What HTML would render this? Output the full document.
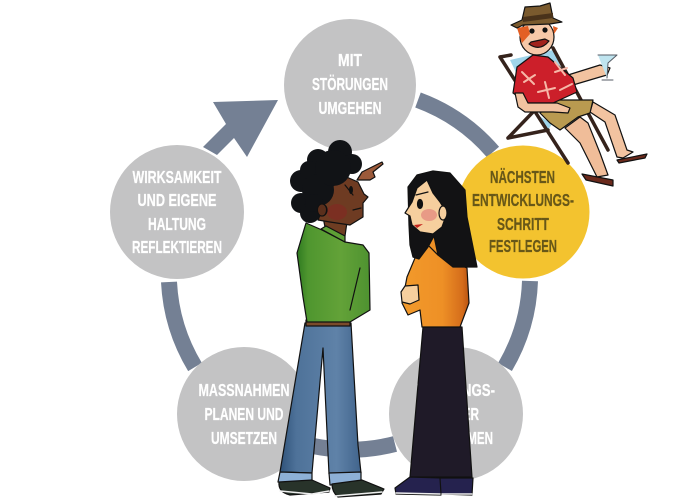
<!DOCTYPE html>
<html lang="de"><head><meta charset="utf-8"><title>Zyklus</title>
<style>html,body{margin:0;padding:0;background:#fff;width:700px;height:500px;overflow:hidden}svg{display:block}
.t{font:bold 17.500px "Liberation Sans",sans-serif;fill:#fff;stroke:#fff;stroke-width:.25;text-anchor:middle}
.y{fill:#675718;stroke:#675718}.o{stroke:#111;stroke-width:1.200;stroke-linejoin:round;stroke-linecap:round}</style></head>
<body><svg width="700" height="500" viewBox="0 0 700 500" xmlns="http://www.w3.org/2000/svg">
<defs>
<linearGradient id="jean" x1="0" x2="1" y1="0" y2="0"><stop offset="0" stop-color="#2f5279"/><stop offset=".2" stop-color="#4e7299"/><stop offset=".7" stop-color="#5f82a8"/><stop offset="1" stop-color="#41648c"/></linearGradient>
<linearGradient id="sw" x1="0" x2="1" y1="0" y2="0"><stop offset="0" stop-color="#2f7a20"/><stop offset=".15" stop-color="#4f962f"/><stop offset=".6" stop-color="#63a238"/><stop offset="1" stop-color="#4e9230"/></linearGradient>
<linearGradient id="or" x1="0" x2="1" y1="0" y2="0"><stop offset="0" stop-color="#f29a2b"/><stop offset=".6" stop-color="#ee9026"/><stop offset=".9" stop-color="#d56d1b"/><stop offset="1" stop-color="#b85312"/></linearGradient>
</defs>
<g fill="none" stroke="#748094" stroke-width="16">
<path d="M418 100A182 182 0 0 1 493 152"/>
<path d="M530 281A182 182 0 0 1 505 367"/>
<path d="M395 444A182 182 0 0 1 313 446"/>
<path d="M195 367A182 182 0 0 1 169 282"/>
</g>
<polygon points="213,102 278,100 247,157 234,138 217,155 203,147 226,124" fill="#748094"/>
<g fill="#c3c3c4">
<circle cx="350" cy="85" r="66"/><circle cx="177" cy="212" r="67"/><circle cx="244" cy="414" r="67"/><circle cx="456" cy="414" r="67"/>
</g>
<circle cx="523" cy="212" r="66.500" fill="#f3c32f"/>
<g class="t">
<text x="350" y="66" textLength="24" lengthAdjust="spacingAndGlyphs">MIT</text>
<text x="350" y="90" textLength="76" lengthAdjust="spacingAndGlyphs">STÖRUNGEN</text>
<text x="350" y="114" textLength="63" lengthAdjust="spacingAndGlyphs">UMGEHEN</text>
<text x="177" y="183" textLength="89" lengthAdjust="spacingAndGlyphs">WIRKSAMKEIT</text>
<text x="177" y="206" textLength="79" lengthAdjust="spacingAndGlyphs">UND EIGENE</text>
<text x="177" y="230" textLength="58" lengthAdjust="spacingAndGlyphs">HALTUNG</text>
<text x="177" y="253" textLength="90" lengthAdjust="spacingAndGlyphs">REFLEKTIEREN</text>
<text x="244" y="396" textLength="91" lengthAdjust="spacingAndGlyphs">MASSNAHMEN</text>
<text x="244" y="420" textLength="79" lengthAdjust="spacingAndGlyphs">PLANEN UND</text>
<text x="244" y="444" textLength="66" lengthAdjust="spacingAndGlyphs">UMSETZEN</text>
<text x="456" y="396" textLength="78" lengthAdjust="spacingAndGlyphs">WIRKUNGS-</text>
<text x="456" y="420" textLength="46" lengthAdjust="spacingAndGlyphs">WEITER</text>
<text x="456" y="444" textLength="74" lengthAdjust="spacingAndGlyphs">AUFNEHMEN</text>
</g>
<g class="t y">
<text x="522.500" y="183" textLength="65" lengthAdjust="spacingAndGlyphs">NÄCHSTEN</text>
<text x="523" y="206" textLength="102" lengthAdjust="spacingAndGlyphs">ENTWICKLUNGS-</text>
<text x="523" y="230" textLength="52" lengthAdjust="spacingAndGlyphs">SCHRITT</text>
<text x="523" y="252" textLength="68" lengthAdjust="spacingAndGlyphs">FESTLEGEN</text>
</g>

<!-- man -->
<g class="o">
<path d="M305 323H351L358 445L361 473L329 474L323 348L312 473L280 472Z" fill="url(#jean)"/>
<path d="M280 472L312 473V483L278 482Z M329 473L361 472V483L330 485Z" fill="#8db0d6"/>
<path d="M279 482L312 480L330 488L329 492L290 495Q278 492 279 482Z" fill="#28332a"/>
<path d="M332 484L362 480L384 489L381 494L338 497Q332 492 332 484Z" fill="#28332a"/>
<path d="M280 491L312 494L329 491M335 496L382 492" fill="none" stroke="#eee" stroke-width="1.500"/>
<path d="M306 320H350V326H306Z" fill="#7a4a2a"/>
<path d="M306 223L297 253L303 297L307 322H350L370 310L369 253L363 245L345 242L322 230Z" fill="url(#sw)"/>
<path d="M360 268L350 310" fill="none"/>
<path d="M322 212L325 227L345 236L347 222Z" fill="#6e3d22"/>
<path d="M321 229L345 242L345 236L326 226Z" fill="#5e9f36"/>
<path d="M357 180L362 172L382 162L383 164L373 172L375 177L370 180Z" fill="#9c5a3a"/>
<path d="M330 190L342 175L358 182L364 194L368 197L363 203L363 217L350 225L330 222L318 220Z" fill="#6e3b22"/>
<ellipse cx="337" cy="212" rx="10" ry="8" fill="#7b2f22" stroke="none"/>
<ellipse cx="322" cy="210" rx="5" ry="6" fill="#5a2f1c"/>
<path d="M345 185L353 195M353 210L361 208" fill="none"/>
<ellipse cx="351" cy="190" rx="2" ry="4" fill="#111" stroke="none"/>
</g>
<g fill="#111316">
<circle cx="301" cy="181" r="11"/><circle cx="301" cy="203" r="10"/><circle cx="310" cy="213" r="10"/><circle cx="318" cy="160" r="11"/><circle cx="340" cy="152" r="12"/><circle cx="352" cy="164" r="10"/><circle cx="309" cy="170" r="9"/><circle cx="318" cy="190" r="16"/><circle cx="333" cy="168" r="18"/><circle cx="314" cy="203" r="9"/>
</g>
<ellipse cx="322" cy="210" rx="4.500" ry="6" fill="#5a2f1c" stroke="#111"/>
<!-- woman -->
<g class="o">
<path d="M423 327H462L472 477H410Z" fill="#1f1a28"/>
<path d="M410 477L395 488L396 494L441 495L442 478Z" fill="#25224e"/>
<path d="M440 478L441 494L472 495L473 478Z" fill="#25224e"/>
<path d="M396 493L440 494M442 494L472 494" fill="none" stroke="#eee" stroke-width="1.500"/>
<path d="M428 245L438 255L467 268L469 303L460 327H422L420 310L408 315L402 303L407 277L415 258Z" fill="url(#or)"/>
<path d="M405 286L418 285L419 300L410 304L402 302L401 292Z" fill="#f6cf9e"/>
<path d="M433 233L428 245L438 255L440 232Z" fill="#ee9026"/>
<path d="M409 225L410 245L413 257L419 259L428 247L434 236L438 255L453 267L477 267L467 217L465 190L450 173L433 171L417 175L408 187Z" fill="#121214"/>
<path d="M427 180L417 188L412 202L405 213L410 216L412 225L420 232L433 234L442 227L447 213L440 202L433 193Z" fill="#f6cf9e"/>
<ellipse cx="429" cy="215" rx="8" ry="6" fill="#e89a86" stroke="none"/>
<ellipse cx="443" cy="213" rx="4" ry="7" fill="#f6cf9e"/>
<ellipse cx="420" cy="204" rx="2.500" ry="4.500" fill="#111"/>
<path d="M416 195L428 192" fill="none"/>
<path d="M414 225L423 224L417 228Z" fill="#c5241d" stroke="none"/>
</g>
<!-- vacation man -->
<g class="o">
<path d="M510 60L553 50L570 87L528 97Z" fill="#9fd4ea" stroke="none"/>
<path d="M533 112L552 124L548 130Z" fill="#9fd4ea" stroke="none"/>
<path d="M500 57L568 163M553 48L608 150M508 138L533 112M508 138L548 130M500 57L511 55" fill="none" stroke="#35231c" stroke-width="3.500"/>
<path d="M593 102L615 115L627 150L633 152L623 158L617 157L605 122L590 112Z" fill="#f2c3a0"/>
<path d="M565 128L580 117L588 123L600 153L608 175L597 177L580 143Z" fill="#f0bd99"/>
<path d="M617 160L647 154L645 158L619 163Z M582 174L613 180L613 186L586 180Z" fill="#6b2a1c"/>
<path d="M540 113L555 100L593 100L590 113L578 117L560 130L550 123Z" fill="#b99a50"/>
<path d="M568 75L600 65L610 68L607 75L600 77L573 85Z" fill="#f2c3a0"/>
<path d="M513 93L517 67L533 55L548 57L573 78L577 92L553 103L527 103Z" fill="#cc1f2a"/>
<g stroke="#f6b8a8" stroke-width="2" fill="none"><path d="M522 72L534 84M535 75L524 82M538 92L555 88M545 82L549 98M555 62L565 75M555 72L567 68M560 90L572 84"/></g>
<path d="M515 93L523 93L528 103L557 103L570 108L568 113L553 112L525 112L518 107Z" fill="#f2c3a0"/>
<ellipse cx="537" cy="37" rx="17" ry="18" fill="#f6c8a8"/>
<path d="M517 28L528 26L530 34L522 43Z M553 26L558 28L554 34Z" fill="#e35f24" stroke="none"/>
<path d="M529 44Q540 52 549 41L545 39L531 42Z" fill="#a1231c"/>
<circle cx="532" cy="31" r="2" fill="#111"/><circle cx="545" cy="30" r="2" fill="#111"/>
<path d="M522 20L525 7L540 6L550 3L553 18L562 22L550 24L523 25L517 28L511 25Z" fill="#7a5a2e"/>
<path d="M523 17L553 13L553 18L523 22Z" fill="#49321a" stroke="none"/>
<path d="M598 55H617L608 63L607 78M602 80H613" fill="#bfe4ef" stroke="#555b64" stroke-width="1"/>
</g>
</svg></body></html>
